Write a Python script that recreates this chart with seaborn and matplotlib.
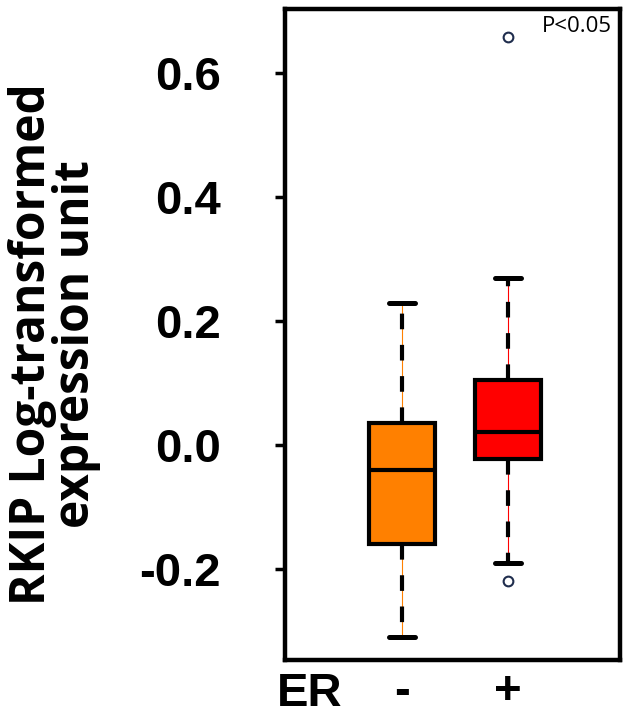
import numpy as np
import pandas as pd
import seaborn as sns
import matplotlib
matplotlib.use('Agg')
import matplotlib.pyplot as plt

# RKIP log-transformed expression
er_neg = [-0.310, -0.160, -0.040, 0.035, 0.229]
er_pos = [-0.220, -0.190, -0.023, 0.000, 0.021, 0.060, 0.105, 0.269, 0.658]
groups = ['-', '+']
box_colors = ['#FF8000', '#FF0000']
yticks = [-0.2, 0.0, 0.2, 0.4, 0.6]
ytick_labels = ['-0.2', '0.0', '0.2', '0.4', '0.6']

df = pd.DataFrame({'ER': ['-'] * len(er_neg) + ['+'] * len(er_pos),
                   'expr': er_neg + er_pos})

sns.set_style('ticks')
plt.rcParams['font.family'] = ['Liberation Sans', 'DejaVu Sans']
plt.rcParams.update({'text.color': 'black', 'axes.labelcolor': 'black',
                     'xtick.color': 'black', 'ytick.color': 'black'})

fig = plt.figure(figsize=(6.27, 7.18), dpi=100)
ax = fig.add_axes([285 / 627, 1 - 660 / 718, 335 / 627, 651 / 718])

sns.boxplot(data=df, x='ER', y='expr', hue='ER', order=groups, hue_order=groups,
            palette=box_colors, saturation=1, width=0.63, linecolor='black',
            linewidth=3, whis=1.5, legend=False, ax=ax, capwidths=0.25,
            whiskerprops=dict(linestyle=(0, (3.75, 3.75)), gid='whisker'),
            capprops=dict(linewidth=3.6),
            flierprops=dict(marker='o', markersize=7, markerfacecolor='none',
                            markeredgecolor='#1f2d4d', markeredgewidth=1.5))

# thin coloured line under the dashed whiskers
for line in list(ax.lines):
    if line.get_gid() == 'whisker':
        xs = line.get_xdata()
        c = box_colors[int(round(xs[0]))]
        ax.plot(xs, line.get_ydata(), color=c, lw=0.8, zorder=line.get_zorder() - 0.1)

ax.set_xlim(-1.104, 2.057)
ax.set_ylim(-0.347, 0.703)
ax.set_yticks(yticks)
ax.set_yticklabels(ytick_labels, fontsize=34, fontweight='bold')
ax.set_xticks([0, 1])
ax.set_xticklabels(groups, fontsize=34, fontweight='bold')
ax.tick_params(axis='y', length=7, width=2.5, pad=39)
ax.tick_params(axis='x', length=0, pad=7)
ax.set_xlabel('')
for s in ax.spines.values():
    s.set_linewidth(3.2)
    s.set_color('black')

ax.set_ylabel('RKIP Log-transformed\nexpression unit', fontsize=34.5, fontweight='bold',
              family=['Open Sans', 'DejaVu Sans'], linespacing=0.85)
ax.yaxis.set_label_coords(-0.55, 0.485)

fig.text(277 / 627, 2 / 718, 'ER', fontsize=34, fontweight='bold', ha='left', va='bottom')
ax.text(0.976, 0.99, 'P<0.05', transform=ax.transAxes, ha='right', va='top',
        fontsize=16, family=['Open Sans', 'DejaVu Sans'])

fig.savefig('out.png', dpi=100)
